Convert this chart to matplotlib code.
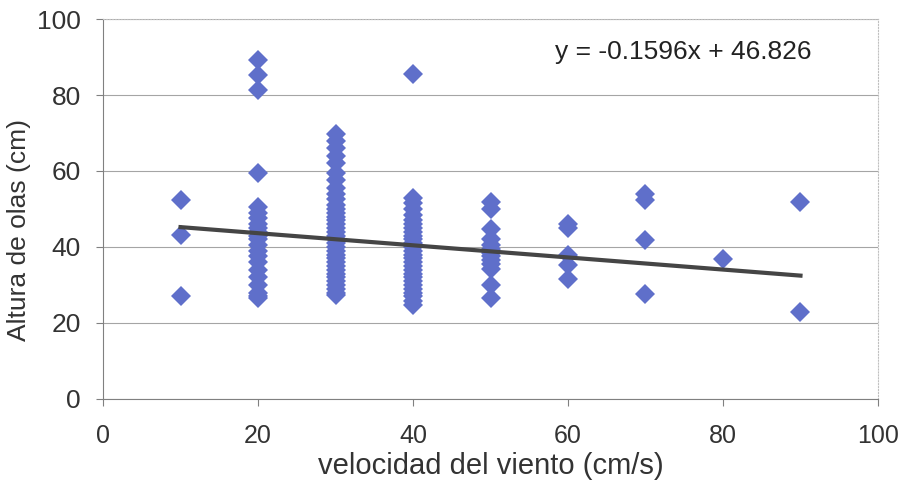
import numpy as np
import matplotlib.pyplot as plt

plt.rcParams['font.family'] = ['Liberation Sans', 'DejaVu Sans']

# wind speed (cm/s) and wave height (cm), read per column of points
x10 = [52.4, 43.2, 27.1]
x20 = [89.2, 85.3, 81.3, 59.5, 50.5, 49.0, 47.5, 46.0, 45.0, 44.0, 43.0, 42.0,
       40.5, 39.0, 37.5, 36.0, 34.0, 32.0, 30.0, 28.0, 27.0, 26.5]
x30 = [69.8, 68.0, 66.0, 64.0, 62.0, 59.5, 57.5, 55.5, 54.0, 52.5, 51.0, 50.0,
       49.0, 48.0, 47.0, 46.0, 45.0, 44.0, 43.0, 42.0, 41.0, 40.0, 39.0, 38.0,
       37.0, 36.0, 35.0, 34.0, 33.0, 32.0, 31.0, 30.0, 29.0, 28.0, 27.3]
x40 = [85.6, 52.8, 51.5, 50.0, 48.5, 47.0, 46.0, 45.0, 44.0, 43.0, 42.0, 41.0,
       40.0, 39.0, 38.0, 37.0, 36.0, 35.0, 34.0, 33.0, 32.0, 31.0, 30.0, 29.0,
       28.0, 27.0, 25.8, 24.6]
x50 = [51.8, 50.0, 44.8, 42.0, 40.5, 39.5, 38.5, 37.5, 36.5, 35.5, 34.2, 30.0,
       26.5]
x60 = [46.0, 45.0, 37.9, 35.3, 31.6]
x70 = [54.0, 52.4, 41.8, 27.5]
x80 = [36.9]
x90 = [51.8, 22.9]

columns = {10: x10, 20: x20, 30: x30, 40: x40, 50: x50,
           60: x60, 70: x70, 80: x80, 90: x90}

speed = np.concatenate([[k] * len(v) for k, v in columns.items()])
height = np.concatenate(list(columns.values()))

# trend line from the equation printed on the chart
slope, intercept = -0.1596, 46.826
trend_x = np.array([10, 90])
trend_y = slope * trend_x + intercept

fig = plt.figure(figsize=(9.07, 4.95), dpi=100)
ax = fig.add_axes([0.1136, 0.194, 0.968 - 0.1136, 0.9616 - 0.194])

ax.plot(speed, height, 'D', color='#5f6fca', markersize=10,
        markeredgewidth=0, zorder=3)
ax.plot(trend_x, trend_y, color='#454545', linewidth=3, zorder=4)

ax.set_xlim(0, 100)
ax.set_ylim(0, 100)
ax.set_xticks(range(0, 101, 20))
ax.set_yticks(range(0, 101, 20))
ax.grid(axis='y', color='#a5a5a5', linewidth=0.8)
ax.set_axisbelow(True)

for side in ['top', 'right']:
    ax.spines[side].set_color('#c0c0c0')
    ax.spines[side].set_linestyle(':')
for side in ['left', 'bottom']:
    ax.spines[side].set_color('#808080')

ax.tick_params(direction='out', length=5, color='#808080', labelcolor='#333333')
ax.tick_params(axis='x', labelsize=18, pad=13)
ax.tick_params(axis='y', labelsize=19, pad=11)

ax.set_xlabel('velocidad del viento (cm/s)', fontsize=21, color='#333333',
              labelpad=3)
ax.set_ylabel('Altura de olas (cm)', fontsize=19, color='#333333',
              labelpad=8)
ax.yaxis.set_label_coords(-0.093, 0.445)

ax.text(58.3, 91.3, 'y = -0.1596x + 46.826', fontsize=19, color='#222222',
        va='center')

fig.savefig('out.png', dpi=100)
